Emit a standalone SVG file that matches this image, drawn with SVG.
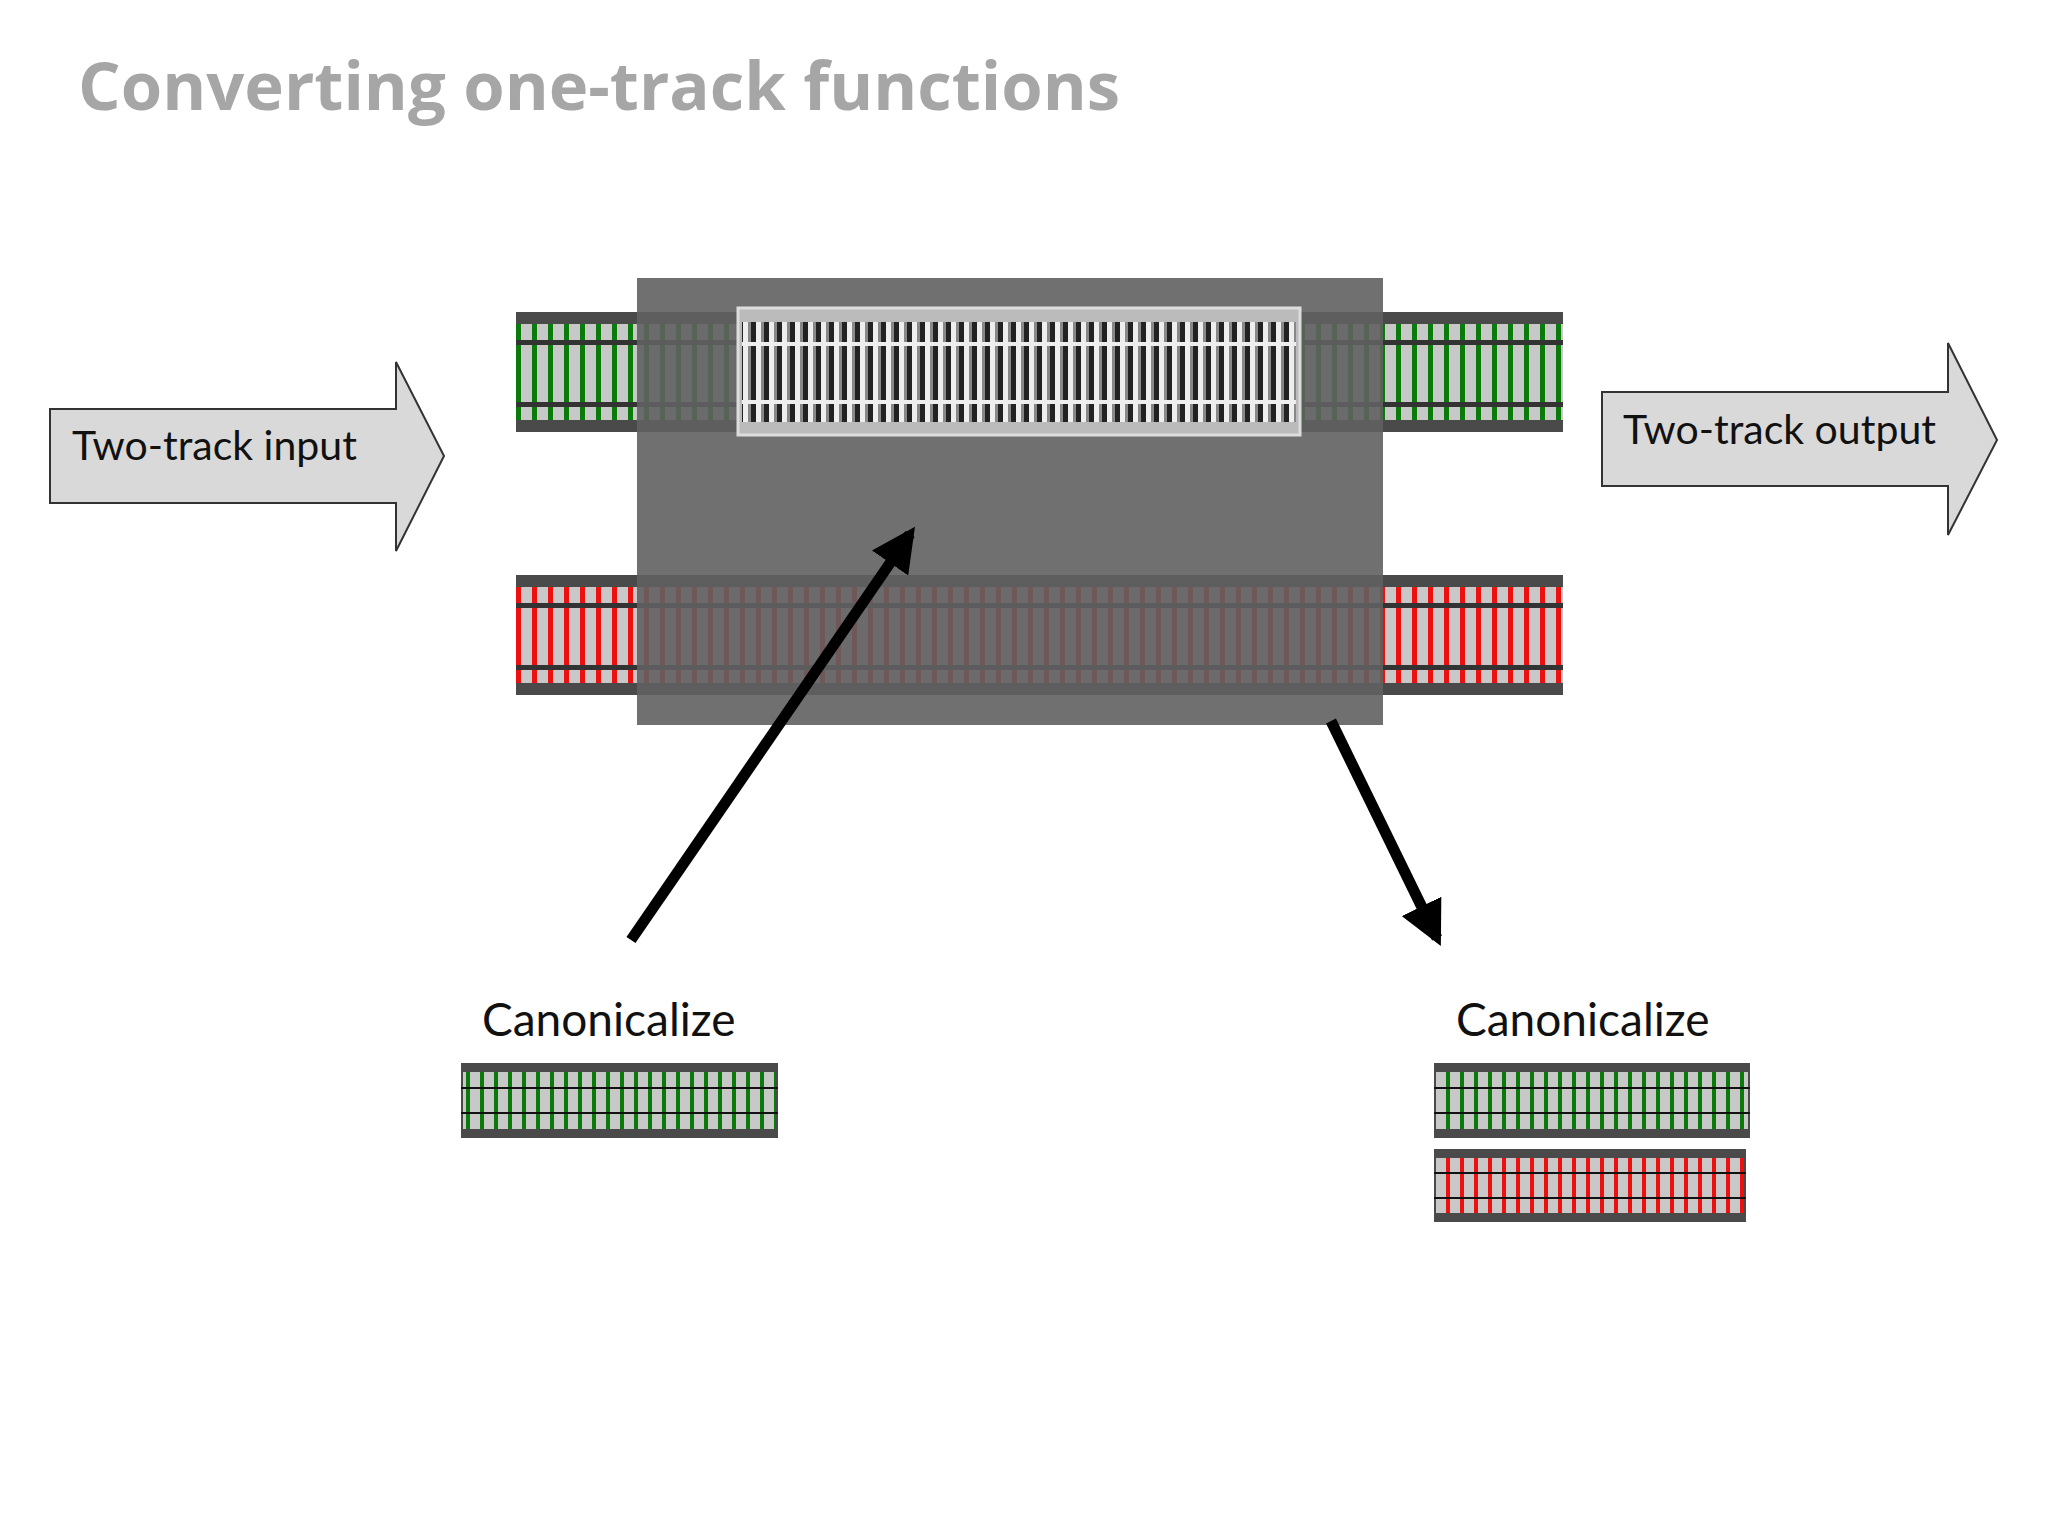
<svg xmlns="http://www.w3.org/2000/svg" width="2048" height="1536" viewBox="0 0 2048 1536">
<style>
.lbl{font-family:"Lato","Open Sans",sans-serif;fill:#111}
.arr{fill:#d9d9d9;stroke:#333;stroke-width:2}
.con{stroke:#000;stroke-width:11;fill:none}
</style>
<defs>
<pattern id="gt" width="16" height="10" patternUnits="userSpaceOnUse"><rect width="16" height="10" fill="#c8c8c8"/><rect x="4" width="5" height="10" fill="#0a7a0a"/></pattern>
<pattern id="rt" width="16" height="10" patternUnits="userSpaceOnUse"><rect width="16" height="10" fill="#c8c8c8"/><rect x="4" width="5" height="10" fill="#ee0f0f"/></pattern>
<pattern id="gs" width="14" height="10" patternUnits="userSpaceOnUse"><rect width="14" height="10" fill="#c8c8c8"/><rect x="4" width="4" height="10" fill="#0a7a0a"/></pattern>
<pattern id="rs" width="14" height="10" patternUnits="userSpaceOnUse"><rect width="14" height="10" fill="#c8c8c8"/><rect x="4" width="4" height="10" fill="#ee0f0f"/></pattern>
<pattern id="wt" width="13" height="10" patternUnits="userSpaceOnUse"><rect width="13" height="10" fill="#222"/><rect x="2" width="5" height="10" fill="#eee"/><rect x="7" width="3" height="10" fill="#888"/></pattern>
<marker id="ah" viewBox="0 0 10 10" refX="8" refY="5" markerWidth="4" markerHeight="4" orient="auto"><path d="M0,0L10,5L0,10z" fill="#000"/></marker>
</defs>
<rect width="2048" height="1536" fill="#fff"/>
<text x="78" y="110" font-family="Open Sans,sans-serif" font-weight="bold" font-size="67" fill="#a6a6a6">Converting one-track functions</text>
<g id="top-track">
<rect x="516" y="312" width="1047" height="120" fill="#4a4a4a"/>
<rect x="516" y="324" width="1047" height="96" fill="url(#gt)"/>
<rect x="516" y="340" width="1047" height="5" fill="#333"/>
<rect x="516" y="402" width="1047" height="5" fill="#333"/>
</g>
<g id="bottom-track">
<rect x="516" y="575" width="1047" height="120" fill="#4a4a4a"/>
<rect x="516" y="587" width="1047" height="96" fill="url(#rt)"/>
<rect x="516" y="603" width="1047" height="5" fill="#333"/>
<rect x="516" y="665" width="1047" height="5" fill="#333"/>
</g>
<g id="function-box">
<rect x="637" y="278" width="746" height="447" fill="#606060" fill-opacity="0.9"/>
<rect x="738" y="308" width="562" height="127" fill="#bbb" stroke="#ddd" stroke-width="3"/>
<rect x="742" y="322" width="554" height="100" fill="url(#wt)"/>
<rect x="742" y="342" width="554" height="4" fill="#eee"/>
<rect x="742" y="400" width="554" height="4" fill="#eee"/>
</g>
<g id="input">
<polygon class="arr" points="50,409 396,409 396,362 444,456 396,551 396,503 50,503"/>
<text class="lbl" x="72" y="460" font-size="41">Two-track input</text>
</g>
<g id="output">
<polygon class="arr" points="1602,392 1948,392 1948,343 1997,440 1948,535 1948,486 1602,486"/>
<text class="lbl" x="1623" y="444" font-size="41">Two-track output</text>
</g>
<g id="connectors">
<line class="con" x1="631" y1="940" x2="910" y2="534" marker-end="url(#ah)"/>
<line class="con" x1="1331" y1="721" x2="1437" y2="938" marker-end="url(#ah)"/>
</g>
<g id="canon-left">
<text class="lbl" x="482" y="1036" font-size="46">Canonicalize</text>
<rect x="461" y="1063" width="317" height="75" fill="#4a4a4a"/>
<rect x="463" y="1072" width="313" height="57" fill="url(#gs)"/>
<rect x="461" y="1087" width="317" height="2" fill="#111"/>
<rect x="461" y="1112" width="317" height="2" fill="#111"/>
</g>
<g id="canon-right">
<text class="lbl" x="1456" y="1036" font-size="46">Canonicalize</text>
<rect x="1434" y="1063" width="316" height="75" fill="#4a4a4a"/>
<rect x="1436" y="1072" width="312" height="57" fill="url(#gs)"/>
<rect x="1434" y="1087" width="316" height="2" fill="#111"/>
<rect x="1434" y="1112" width="316" height="2" fill="#111"/>
<rect x="1434" y="1149" width="312" height="73" fill="#4a4a4a"/>
<rect x="1436" y="1158" width="308" height="55" fill="url(#rs)"/>
<rect x="1434" y="1172" width="312" height="2" fill="#111"/>
<rect x="1434" y="1197" width="312" height="2" fill="#111"/>
</g>
</svg>
